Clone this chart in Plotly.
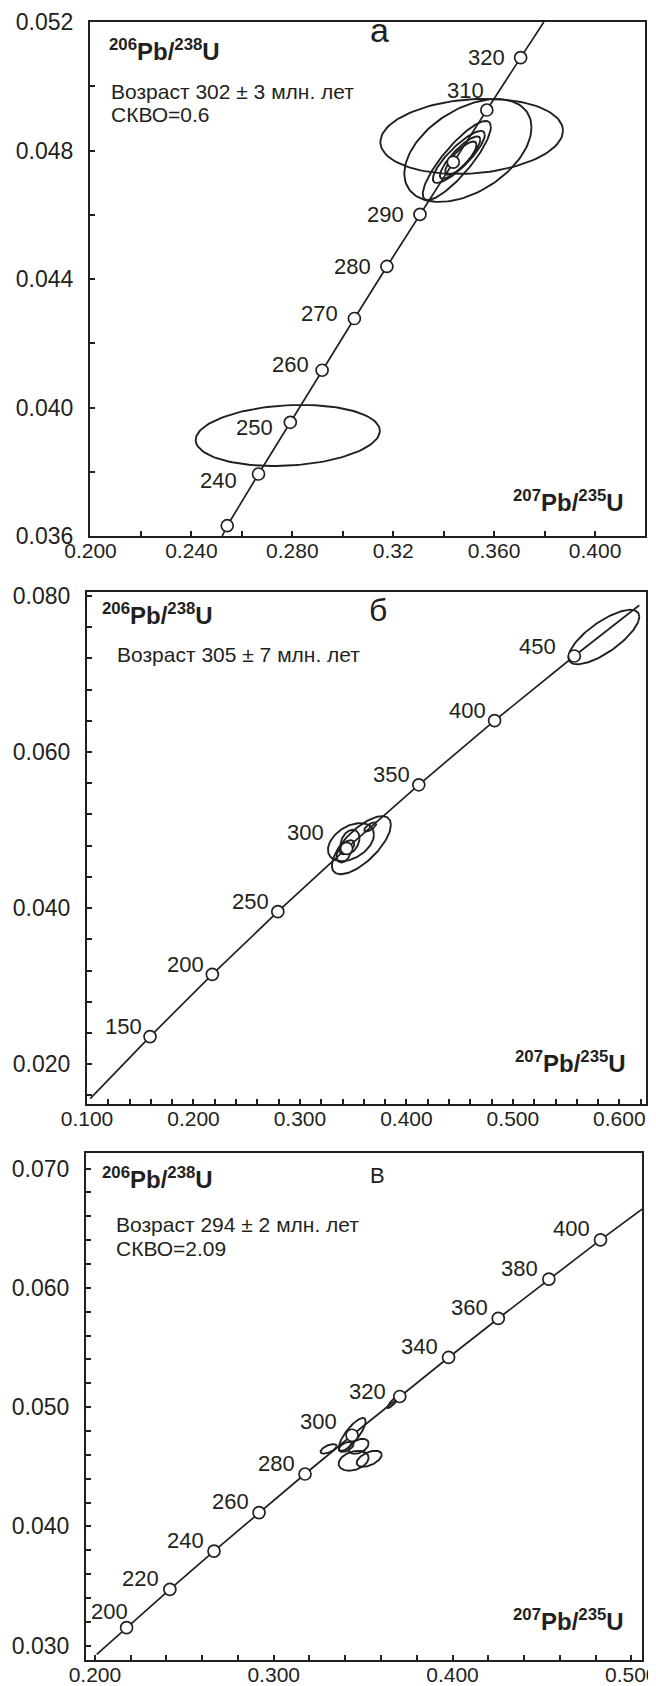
import numpy as np
import plotly.graph_objects as go

W, H = 656, 1686

# ---------------- DATA ----------------
# Panel а: concordia points (207Pb/235U, 206Pb/238U) and age labels
a_ages = [230, 240, 250, 260, 270, 280, 290, 300, 310, 320]
a_x = [0.2542, 0.2666, 0.2792, 0.2918, 0.3046, 0.3175, 0.3306, 0.3438, 0.3571, 0.3705]
a_y = [0.03632, 0.03793, 0.03954, 0.04116, 0.04277, 0.04439, 0.04601, 0.04764, 0.04926, 0.05089]
a_labels = ["", "240", "250", "260", "270", "280", "290", "", "310", "320"]
a_line_start = (0.2522, 0.0360)
a_line_end = (0.3797, 0.0520)
# error ellipses: centre x, centre y, half-width x, half-height y, correlation
a_ell_cx = [0.2782, 0.3511, 0.3496, 0.3452, 0.3460, 0.3465, 0.3468]
a_ell_cy = [0.03913, 0.04844, 0.04800, 0.04769, 0.04780, 0.04778, 0.04776]
a_ell_rx = [0.0365, 0.0362, 0.0252, 0.0135, 0.0103, 0.0080, 0.0062]
a_ell_ry = [0.00095, 0.00117, 0.00160, 0.00123, 0.00081, 0.00066, 0.00052]
a_ell_rho = [0.15, 0.15, 0.45, 0.85, 0.85, 0.85, 0.80]

# Panel б
b_ages = [150, 200, 250, 300, 350, 400, 450]
b_x = [0.1592, 0.2177, 0.2792, 0.3438, 0.4116, 0.4828, 0.5577]
b_y = [0.02354, 0.03151, 0.03954, 0.04764, 0.05580, 0.06402, 0.07230]
b_labels = ["150", "200", "250", "300", "350", "400", "450"]
b_line_start = (0.1030, 0.0156)
b_line_end = (0.6187, 0.0788)
b_ell_cx = [0.5854, 0.3577, 0.3479, 0.3470, 0.3410, 0.3440, 0.3660]
b_ell_cy = [0.07473, 0.04806, 0.04845, 0.04850, 0.04700, 0.04780, 0.05040]
b_ell_rx = [0.0333, 0.0277, 0.0216, 0.0089, 0.0066, 0.0070, 0.0056]
b_ell_ry = [0.00349, 0.00372, 0.00244, 0.00154, 0.00115, 0.00090, 0.00058]
b_ell_rho = [0.75, 0.70, 0.40, 0.30, 0.30, 0.50, 0.70]

# Panel в
c_ages = [200, 220, 240, 260, 280, 300, 320, 340, 360, 380, 400]
c_x = [0.2177, 0.2419, 0.2666, 0.2918, 0.3175, 0.3438, 0.3705, 0.3978, 0.4256, 0.4539, 0.4828]
c_y = [0.03151, 0.03472, 0.03793, 0.04116, 0.04439, 0.04764, 0.05089, 0.05416, 0.05743, 0.06072, 0.06402]
c_labels = ["200", "220", "240", "260", "280", "300", "320", "340", "360", "380", "400"]
c_line_start = (0.2010, 0.02927)
c_line_end = (0.5060, 0.0666)
c_ell_cx = [0.3670, 0.3439, 0.3475, 0.3447, 0.3534, 0.3307, 0.3405]
c_ell_cy = [0.05046, 0.04771, 0.04671, 0.04550, 0.04567, 0.04650, 0.04667]
c_ell_rx = [0.0034, 0.0075, 0.0056, 0.0084, 0.0070, 0.0045, 0.0042]
c_ell_ry = [0.00054, 0.00138, 0.00063, 0.00083, 0.00067, 0.00040, 0.00042]
c_ell_rho = [0.90, 0.80, 0.40, 0.30, 0.50, 0.60, 0.50]

# ---------------- STYLE ----------------
INK = "#231f20"
FONT = "Liberation Sans, Arial, sans-serif"

fig = go.Figure()


def ellipse_path(cx, cy, rx, ry, rho, n=120):
    t = np.linspace(0, 2 * np.pi, n)
    x = cx + rx * np.cos(t)
    y = cy + ry * (rho * np.cos(t) + np.sqrt(1 - rho ** 2) * np.sin(t))
    return x, y


def add_panel(xa, ya, xs, ys, labels, start, end, ecx, ecy, erx, ery, erho, lab_shift, special):
    for cx, cy, rx, ry, rho in zip(ecx, ecy, erx, ery, erho):
        ex, ey = ellipse_path(cx, cy, rx, ry, rho)
        fig.add_trace(go.Scatter(x=ex, y=ey, mode="lines", xaxis=xa, yaxis=ya,
                                 line=dict(color=INK, width=1.9), hoverinfo="skip",
                                 showlegend=False))
    lx = [start[0]] + list(xs) + [end[0]]
    ly = [start[1]] + list(ys) + [end[1]]
    fig.add_trace(go.Scatter(x=lx, y=ly, mode="lines", xaxis=xa, yaxis=ya,
                             line=dict(color=INK, width=1.7), showlegend=False))
    fig.add_trace(go.Scatter(x=xs, y=ys, mode="markers", xaxis=xa, yaxis=ya,
                             marker=dict(symbol="circle", size=12, color="white",
                                         line=dict(color=INK, width=1.7)),
                             showlegend=False))
    for x, y, lab in zip(xs, ys, labels):
        if not lab:
            continue
        dx, dy = special.get(lab, lab_shift)
        fig.add_annotation(x=x, y=y, xref=xa, yref=ya, text=lab,
                           showarrow=False, xanchor="center", yanchor="middle",
                           xshift=dx, yshift=dy,
                           font=dict(family=FONT, size=22, color=INK))


add_panel("x", "y", a_x, a_y, a_labels, a_line_start, a_line_end,
          a_ell_cx, a_ell_cy, a_ell_rx, a_ell_ry, a_ell_rho,
          (-34, 0), {"240": (-40, -7), "250": (-36, -5), "260": (-32, 6), "270": (-35, 5),
                     "310": (-21, 20)})
add_panel("x2", "y2", b_x, b_y, b_labels, b_line_start, b_line_end,
          b_ell_cx, b_ell_cy, b_ell_rx, b_ell_ry, b_ell_rho,
          (-27, 10), {"450": (-37, 10), "300": (-41, 16)})
add_panel("x3", "y3", c_x, c_y, c_labels, c_line_start, c_line_end,
          c_ell_cx, c_ell_cy, c_ell_rx, c_ell_ry, c_ell_rho,
          (-29, 11), {"200": (-17, 16), "300": (-34, 14), "320": (-32, 5)})


def px_dom_x(l, r):
    return [l / W, r / W]


def px_dom_y(t, b):
    return [1 - b / H, 1 - t / H]


axis_common = dict(showline=True, linewidth=2, linecolor=INK, mirror=True,
                   ticks="inside", ticklen=5, tickwidth=1.5, tickcolor=INK,
                   showgrid=False, zeroline=False, automargin=False)


def make_axis(dom, rng, vals, text, minor_dt, anchor, standoff, fsize):
    d = dict(axis_common)
    d.update(domain=dom, range=rng, tickvals=vals, ticktext=text, anchor=anchor,
             ticklabelstandoff=standoff,
             tickfont=dict(family=FONT, size=fsize, color=INK),
             minor=dict(dtick=minor_dt, tick0=vals[0], ticks="inside", ticklen=5,
                        tickwidth=1.5, tickcolor=INK, showgrid=False))
    return d


a_xt = [0.20, 0.24, 0.28, 0.32, 0.36, 0.40]
a_xtt = ["0.200", "0.240", "0.280", "0.32", "0.360", "0.400"]
a_yt = [0.036, 0.040, 0.044, 0.048, 0.052]
a_ytt = ["0.036", "0.040", "0.044", "0.048", "0.052"]
b_xt = [0.1, 0.2, 0.3, 0.4, 0.5, 0.6]
b_xtt = ["0.100", "0.200", "0.300", "0.400", "0.500", "0.600"]
b_yt = [0.02, 0.04, 0.06, 0.08]
b_ytt = ["0.020", "0.040", "0.060", "0.080"]
c_xt = [0.2, 0.3, 0.4, 0.5]
c_xtt = ["0.200", "0.300", "0.400", "0.500"]
c_yt = [0.03, 0.04, 0.05, 0.06, 0.07]
c_ytt = ["0.030", "0.040", "0.050", "0.060", "0.070"]

XS, YS, XF, YF = -5, 10, 21, 23
fig.update_layout(
    width=W, height=H, paper_bgcolor="white", plot_bgcolor="white",
    margin=dict(l=0, r=0, t=0, b=0, autoexpand=False), showlegend=False,
    xaxis=make_axis(px_dom_x(82, 637), [0.1998, 0.4198], a_xt, a_xtt, 0.02, "y", XS, XF),
    yaxis=make_axis(px_dom_y(14, 528), [0.036, 0.052], a_yt, a_ytt, 0.002, "x", YS, YF),
    xaxis2=make_axis(px_dom_x(79, 638), [0.1, 0.625], b_xt, b_xtt, 0.02, "y2", XS, XF),
    yaxis2=make_axis(px_dom_y(584, 1096), [0.0149, 0.0805], b_yt, b_ytt, 0.004, "x2", YS, YF),
    xaxis3=make_axis(px_dom_x(78, 634), [0.195, 0.506], c_xt, c_xtt, 0.02, "y3", XS, XF),
    yaxis3=make_axis(px_dom_y(1145, 1652), [0.0288, 0.0713], c_yt, c_ytt, 0.002, "x3", YS, YF),
)


def note(text, px, py, size=19, bold=False, xanchor="left"):
    if bold:
        text = "<b>" + text + "</b>"
    fig.add_annotation(x=px / W, y=1 - py / H, xref="paper", yref="paper", text=text,
                       showarrow=False, xanchor=xanchor, yanchor="middle",
                       font=dict(family=FONT, size=size, color=INK))


PB206 = "<sup>206</sup>Pb/<sup>238</sup>U"
PB207 = "<sup>207</sup>Pb/<sup>235</sup>U"

# panel а
note(PB206, 99, 42, 24, True)
note("а", 372, 22, 34, xanchor="center")
note("Возраст 302 ± 3 млн. лет", 101, 84, 21)
note("СКВО=0.6", 101, 107, 21)
note(PB207, 503, 493, 24, True)
# panel б
note(PB206, 92, 606, 24, True)
note("б", 370, 602, 32, xanchor="center")
note("Возраст 305 ± 7 млн. лет", 107, 647, 21)
note(PB207, 505, 1054, 24, True)
# panel в
note(PB206, 92, 1170, 24, True)
note("В", 370, 1167, 22, xanchor="center")
note("Возраст 294 ± 2 млн. лет", 106, 1216, 21)
note("СКВО=2.09", 106, 1240, 21)
note(PB207, 503, 1612, 24, True)

fig.write_html("out.html")
